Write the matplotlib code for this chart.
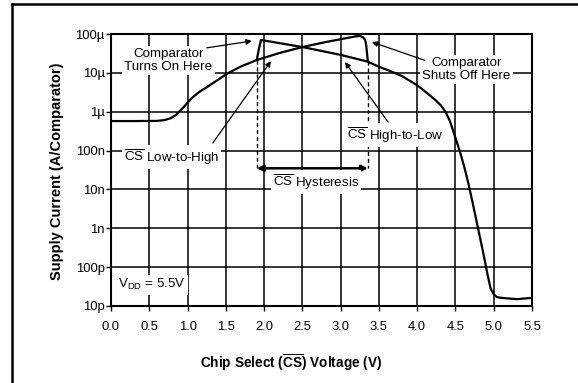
import matplotlib
matplotlib.use("Agg")
import matplotlib.pyplot as plt
from matplotlib.lines import Line2D

plt.rcParams['font.family'] = ['Liberation Sans', 'DejaVu Sans']
plt.rcParams['mathtext.fontset'] = 'custom'
plt.rcParams['mathtext.rm'] = 'Liberation Sans'
plt.rcParams['mathtext.it'] = 'Liberation Sans:italic'
plt.rcParams['mathtext.bf'] = 'Liberation Sans:bold'

# ---- data ----
# CS Low-to-High sweep (V, A)
v_lh = [0.0, 0.3, 0.6, 0.7, 0.78, 0.85, 0.95, 1.05, 1.15, 1.25, 1.38, 1.51,
        1.69, 1.905, 2.2, 2.5, 2.8, 3.05, 3.2, 3.25, 3.29, 3.32, 3.335, 3.345,
        3.355]
i_lh = [5.75e-7, 5.75e-7, 5.8e-7, 6.1e-7, 6.8e-7, 8.3e-7, 1.32e-6, 2.2e-6,
        3.2e-6, 4.25e-6, 6.3e-6, 9.35e-6, 1.44e-5, 2.14e-5, 3.24e-5, 4.62e-5,
        6.17e-5, 7.66e-5, 8.71e-5, 8.91e-5, 8.3e-5, 7.1e-5, 5.0e-5, 3.16e-5,
        2.0e-5]
# CS High-to-Low sweep (V, A)
v_hl = [1.905, 1.93, 1.96, 2.0, 2.5, 3.0, 3.35, 3.51, 3.645, 3.8, 4.0, 4.15,
        4.25, 4.31, 4.37, 4.43, 4.48, 4.53, 4.57, 4.62, 4.67, 4.72, 4.78, 4.86,
        4.92, 4.96, 5.0, 5.04, 5.1, 5.3, 5.5]
i_hl = [2.14e-5, 4.0e-5, 7.0e-5, 6.8e-5, 4.62e-5, 2.9e-5, 1.95e-5, 1.41e-5,
        1.12e-5, 8.3e-6, 4.8e-6, 2.8e-6, 1.9e-6, 1.45e-6, 1.0e-6, 5.6e-7,
        2.8e-7, 1.4e-7, 7.8e-8, 3.5e-8, 1.4e-8, 5.0e-9, 1.38e-9, 2.5e-10,
        6.3e-11, 2.8e-11, 2.0e-11, 1.7e-11, 1.62e-11, 1.5e-11, 1.62e-11]
# comparator thresholds (V)
v_on = 1.905
v_off = 3.355
i_on = 2.14e-5
i_off = 2.0e-5

x_ticks = [0.0, 0.5, 1.0, 1.5, 2.0, 2.5, 3.0, 3.5, 4.0, 4.5, 5.0, 5.5]
x_labels = ['0.0', '0.5', '1.0', '1.5', '2.0', '2.5', '3.0', '3.5', '4.0',
            '4.5', '5.0', '5.5']
y_ticks = [1e-11, 1e-10, 1e-9, 1e-8, 1e-7, 1e-6, 1e-5, 1e-4]
y_labels = ['10p', '100p', '1n', '10n', '100n', '1µ', '10µ', '100µ']

# ---- figure ----
W, H = 578, 383
fig = plt.figure(figsize=(W / 100, H / 100), dpi=100)
ax = fig.add_axes([111 / W, 1 - 306 / H, (532 - 111) / W, (306 - 34) / H])

ax.set_yscale('log')
ax.set_xlim(0, 5.5)
ax.set_ylim(1e-11, 1e-4)
ax.set_xticks(x_ticks)
ax.set_xticklabels(x_labels)
ax.set_yticks(y_ticks)
ax.set_yticklabels(y_labels)
ax.minorticks_off()
ax.tick_params(axis='both', direction='out', length=3.5, width=1.0,
               labelsize=9.4, colors='black')
ax.tick_params(axis='x', pad=7.0)
ax.tick_params(axis='y', pad=1)
for s in ax.spines.values():
    s.set_linewidth(1.5)
ax.grid(True, which='major', color='black', lw=1.1)
ax.set_axisbelow(True)

ax.plot(v_lh, i_lh, color='black', lw=1.6, zorder=4)
ax.plot(v_hl, i_hl, color='black', lw=1.6, zorder=4)

# hysteresis markers
y_arrow = 3.5e-8
ax.plot([v_on, v_on], [i_on, y_arrow], color='black', lw=1.0, ls=(0, (3, 2)), zorder=4)
ax.plot([v_off, v_off], [i_off, y_arrow], color='black', lw=1.0, ls=(0, (3, 2)), zorder=4)
ax.annotate('', xy=(v_on, y_arrow), xytext=(v_off, y_arrow),
            arrowprops=dict(arrowstyle='<|-|>', color='black', lw=1.8,
                            mutation_scale=9, shrinkA=0, shrinkB=0), zorder=5)

box = dict(facecolor='white', edgecolor='none', pad=1.5)
fs = 9.6
ax.text(0.75, 2.1e-5, 'Comparator\nTurns On Here', ha='center', va='center',
        fontsize=fs, bbox=box, linespacing=1.15, zorder=6)
ax.text(4.645, 1.22e-5, 'Comparator\nShuts Off Here', ha='center', va='center',
        fontsize=fs, bbox=box, linespacing=1.15, zorder=6)
ax.text(0.79, 6.8e-8, r'$\overline{\rm CS}$ Low-to-High', ha='center', va='center',
        fontsize=fs, bbox=box, zorder=6)
ax.text(3.71, 2.5e-7, r'$\overline{\rm CS}$ High-to-Low', ha='center', va='center',
        fontsize=fs, bbox=box, zorder=6)
ax.text(2.68, 1.55e-8, r'$\overline{\rm CS}$ Hysteresis', ha='center', va='center',
        fontsize=fs, bbox=box, zorder=6)
ax.text(0.09, 3.5e-11, r'V$_{\rm DD}$ = 5.5V', ha='left', va='center',
        fontsize=fs, bbox=box, zorder=6)

ap = dict(arrowstyle='-|>', color='black', lw=0.9, mutation_scale=8,
          shrinkA=0, shrinkB=0)
ax.annotate('', xy=(1.84, 6.6e-5), xytext=(1.25, 4.4e-5), arrowprops=ap, zorder=7)
ax.annotate('', xy=(3.41, 6.2e-5), xytext=(4.10, 2.1e-5), arrowprops=ap, zorder=7)
ax.annotate('', xy=(2.09, 2.0e-5), xytext=(1.33, 1.57e-7), arrowprops=ap, zorder=7)
ax.annotate('', xy=(3.057, 1.9e-5), xytext=(3.62, 5.4e-7), arrowprops=ap, zorder=7)

fig.text(291.5 / W, 1 - 363 / H, r'Chip Select ($\mathbf{\overline{CS}}$) Voltage (V)',
         ha='center', va='center', fontsize=9.8, fontweight='bold')
fig.text(57.5 / W, 1 - 171 / H, 'Supply Current (A/Comparator)', rotation=90,
         ha='center', va='center', fontsize=10.5, fontweight='bold')

# outer frame (top and left edges visible)
fig.add_artist(Line2D([11.5 / W, 1.0], [1 - 3.5 / H, 1 - 3.5 / H],
                      transform=fig.transFigure, color='black', lw=1.8))
fig.add_artist(Line2D([11.5 / W, 11.5 / W], [0.0, 1 - 3.5 / H],
                      transform=fig.transFigure, color='black', lw=1.8))

fig.savefig('out.png', dpi=100)
